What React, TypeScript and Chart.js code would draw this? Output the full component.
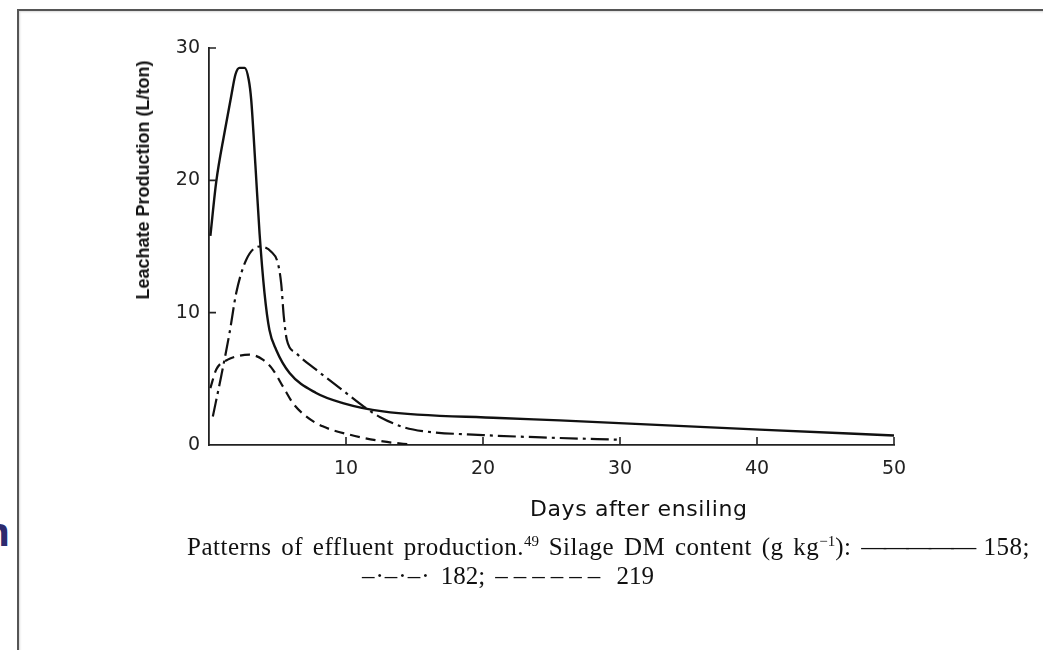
import React, { useEffect, useRef } from "react";
import { Chart, registerables } from "chart.js";
Chart.register(...registerables);

// Silage DM 158 g/kg (solid)
const days158 = [0.1, 0.53, 1.13, 1.62, 1.93, 2.23, 2.6, 2.9, 3.08, 3.39, 3.69, 4.05, 4.41, 4.9, 5.88, 7.82, 9.77, 12.7, 21.2, 25.6, 40.2, 50];
const leach158 = [15.8, 19.9, 23.6, 26.35, 28.0, 28.5, 28.5, 27.6, 26.1, 21.1, 16.0, 11.5, 8.7, 7.2, 5.44, 3.93, 3.17, 2.54, 2.04, 1.86, 1.16, 0.72];

// Silage DM 182 g/kg (dash-dot)
const days182 = [0.28, 0.89, 1.5, 1.99, 2.72, 3.69, 4.54, 5.02, 5.27, 5.46, 5.68, 6.36, 7.82, 9.8, 11.3, 12.5, 14.2, 15.6, 20, 25, 30];
const leach182 = [2.16, 5.2, 8.47, 11.5, 14.0, 15.0, 14.6, 13.76, 12.2, 9.7, 7.96, 6.95, 5.69, 4.1, 2.9, 2.1, 1.35, 1.05, 0.75, 0.55, 0.4];

// Silage DM 219 g/kg (dashed)
const days219 = [0.1, 0.53, 1.37, 2.23, 2.96, 3.93, 4.66, 5.39, 6.12, 7.09, 8.3, 10.26, 12.7, 14.9];
const leach219 = [4.3, 5.7, 6.45, 6.75, 6.83, 6.45, 5.7, 4.43, 3.17, 2.16, 1.41, 0.78, 0.27, 0.02];

const xTickValues = [10, 20, 30, 40, 50];
const yTickValues = [0, 10, 20, 30];

const seriesNames = ["158", "182", "219"];

const toPoints = (xs: number[], ys: number[]) => xs.map((x, i) => ({ x, y: ys[i] }));

const inwardTicks = {
  id: "inwardTicks",
  afterDatasetsDraw(chart: any) {
    const { ctx, scales } = chart;
    const xs = scales.x;
    const ys = scales.y;
    ctx.save();
    ctx.strokeStyle = "#222";
    ctx.lineWidth = 1.6;
    ctx.beginPath();
    xTickValues.forEach((v) => {
      const px = xs.getPixelForValue(v);
      ctx.moveTo(px, ys.bottom);
      ctx.lineTo(px, ys.bottom - 8);
    });
    yTickValues.forEach((v) => {
      if (v === 0) return;
      const py = ys.getPixelForValue(v);
      ctx.moveTo(xs.left, py);
      ctx.lineTo(xs.left + 7, py);
    });
    ctx.stroke();
    ctx.restore();
  },
};

const serif = "'Liberation Serif', 'Times New Roman', serif";
const supStyle: React.CSSProperties = { fontSize: 15, position: "relative", top: -9, letterSpacing: 0 };

export default function App() {
  const ref = useRef<HTMLCanvasElement | null>(null);

  useEffect(() => {
    if (!ref.current) return;
    const tickFont = { family: "'DejaVu Sans', sans-serif", size: 19 };
    const chart = new Chart(ref.current, {
      type: "line",
      data: {
        datasets: [
          {
            label: seriesNames[0],
            data: toPoints(days158, leach158),
            borderColor: "#111",
            borderWidth: 2.4,
            pointRadius: 0,
            cubicInterpolationMode: "monotone",
            fill: false,
          },
          {
            label: seriesNames[1],
            data: toPoints(days182, leach182),
            borderColor: "#111",
            borderWidth: 2.2,
            borderDash: [18, 5, 3, 5],
            pointRadius: 0,
            cubicInterpolationMode: "monotone",
            fill: false,
          },
          {
            label: seriesNames[2],
            data: toPoints(days219, leach219),
            borderColor: "#111",
            borderWidth: 2.2,
            borderDash: [10, 6],
            pointRadius: 0,
            cubicInterpolationMode: "monotone",
            fill: false,
          },
        ],
      },
      options: {
        animation: false,
        responsive: false,
        devicePixelRatio: 1,
        layout: { padding: { top: 48, right: 149, left: 0, bottom: 0 } },
        plugins: { legend: { display: false }, tooltip: { enabled: false } },
        scales: {
          x: {
            type: "linear",
            min: 0,
            max: 50,
            grid: { display: false, drawTicks: false },
            border: { display: true, color: "#222", width: 1.8 },
            ticks: {
              stepSize: 10,
              autoSkip: false,
              maxRotation: 0,
              padding: 13,
              color: "#222",
              font: tickFont,
              callback: (v: any) => (xTickValues.includes(Number(v)) ? String(v) : ""),
            },
            afterFit: (s: any) => {
              s.height = 205;
            },
          },
          y: {
            type: "linear",
            min: 0,
            max: 30,
            grid: { display: false, drawTicks: false },
            border: { display: true, color: "#222", width: 1.8 },
            ticks: {
              stepSize: 10,
              padding: 9,
              color: "#222",
              font: tickFont,
              callback: (v: any) => (yTickValues.includes(Number(v)) ? String(v) : ""),
            },
            afterFit: (s: any) => {
              s.width = 209;
            },
          },
        },
      },
      plugins: [inwardTicks],
    });
    return () => chart.destroy();
  }, []);

  return (
    <div
      style={{
        position: "absolute",
        left: 0,
        top: 0,
        width: 1043,
        height: 650,
        background: "#fff",
        overflow: "hidden",
      }}
    >
      <div
        style={{
          position: "absolute",
          left: -16,
          top: 511,
          fontFamily: "'Noto Sans', sans-serif",
          fontWeight: 700,
          fontSize: 40,
          lineHeight: "40px",
          color: "#2d2a6e",
        }}
      >
        n
      </div>
      <div
        style={{
          position: "absolute",
          left: 17,
          top: 9,
          width: 1040,
          height: 650,
          borderTop: "2px solid #555",
          borderLeft: "2px solid #555",
          boxShadow: "inset 1px 1px 2px rgba(0,0,0,0.15)",
        }}
      />
      <canvas
        ref={ref}
        width={1043}
        height={650}
        style={{ position: "absolute", left: 0, top: 0, width: 1043, height: 650 }}
      />
      <div
        style={{
          position: "absolute",
          left: 143,
          top: 180,
          transform: "translate(-50%, -50%) rotate(-90deg)",
          whiteSpace: "nowrap",
          fontFamily: "'Liberation Sans', Arial, sans-serif",
          fontWeight: 700,
          fontSize: 18,
          lineHeight: "20px",
          color: "#111",
        }}
      >
        Leachate Production (L/ton)
      </div>
      <div
        style={{
          position: "absolute",
          left: 530,
          top: 498,
          whiteSpace: "nowrap",
          fontFamily: "'DejaVu Sans', sans-serif",
          fontSize: 22,
          lineHeight: "22px",
          letterSpacing: 0.6,
          color: "#111",
        }}
      >
        Days after ensiling
      </div>
      <div
        style={{
          position: "absolute",
          left: 187,
          top: 534,
          width: 843,
          textAlign: "justify",
          textAlignLast: "justify",
          fontFamily: serif,
          fontSize: 25,
          lineHeight: "25px",
          letterSpacing: 0.5,
          color: "#111",
        }}
      >
        Patterns of effluent production.<span style={supStyle}>49</span> Silage DM content (g kg
        <span style={supStyle}>−1</span>): <span style={{ letterSpacing: -2.5 }}>—————</span> 158;
      </div>
      <div
        style={{
          position: "absolute",
          left: 362,
          top: 563,
          width: 292,
          textAlign: "justify",
          textAlignLast: "justify",
          fontFamily: serif,
          fontSize: 25,
          lineHeight: "25px",
          color: "#111",
        }}
      >
        <span style={{ letterSpacing: 1 }}>–·–·–·</span> 182; <span style={{ letterSpacing: 6 }}>––––––</span> 219
      </div>
    </div>
  );
}
